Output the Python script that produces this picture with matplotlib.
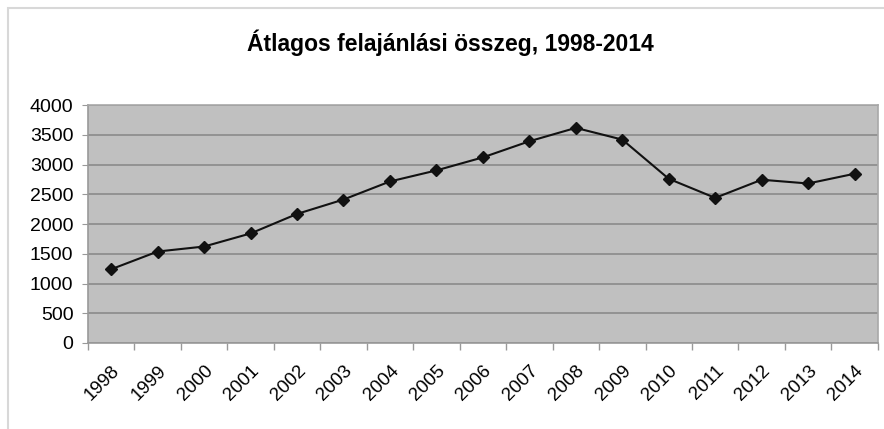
import matplotlib.pyplot as plt
from matplotlib.patches import Rectangle
import numpy as np

plt.rcParams['font.family'] = ['Liberation Sans', 'DejaVu Sans']

# adatok
years = ['1998', '1999', '2000', '2001', '2002', '2003', '2004', '2005', '2006',
         '2007', '2008', '2009', '2010', '2011', '2012', '2013', '2014']
values = [1240, 1538, 1622, 1842, 2170, 2412, 2716, 2902, 3121,
          3392, 3617, 3420, 2761, 2440, 2745, 2682, 2846]
title = 'Átlagos felajánlási összeg, 1998-2014'

fig = plt.figure(figsize=(8.84, 4.29), dpi=100)
# outer chart border
fig.patches.append(Rectangle((8 / 884, -0.01), 1.0, 1 - 8 / 429 + 0.01,
                             transform=fig.transFigure, fill=False,
                             edgecolor='#d8d8d8', linewidth=1.5))
ax = fig.add_axes([0.0995, 0.2005, 0.8935, 0.5545])
ax.set_facecolor('#c0c0c0')

x = np.arange(len(years))
ax.plot(x, values, color='#111111', linewidth=1.5, marker='D', markersize=6.5,
        markerfacecolor='#111111', markeredgecolor='#111111', zorder=3)

ax.set_xlim(-0.5, len(years) - 0.5)
ax.set_ylim(0, 4000)
ax.set_yticks(np.arange(0, 4001, 500))
ax.yaxis.grid(True, color='#8a8a8a', linewidth=1.2)
ax.set_axisbelow(True)

# category boundaries as ticks, labels centered on categories
ax.set_xticks(np.arange(-0.5, len(years), 1.0))
ax.set_xticklabels([])
ax.set_xticks(x, minor=True)
ax.set_xticklabels(years, minor=True, rotation=45, ha='right',
                   rotation_mode='anchor', fontsize=13.5)
ax.tick_params(axis='x', which='major', length=5, color='#999999', width=1)
ax.tick_params(axis='x', which='minor', length=0, pad=14)
ax.tick_params(axis='y', length=4.5, color='#999999', labelsize=14, pad=6)

for s in ['left', 'bottom']:
    ax.spines[s].set_color('#999999')
    ax.spines[s].set_linewidth(1.2)
for s in ['top', 'right']:
    ax.spines[s].set_color('#a8a8a8')
    ax.spines[s].set_linewidth(1.2)

fig.text(0.509, 0.9, title, ha='center', va='center',
         fontsize=16.5, fontweight='bold')

plt.savefig('out.png', dpi=100)
